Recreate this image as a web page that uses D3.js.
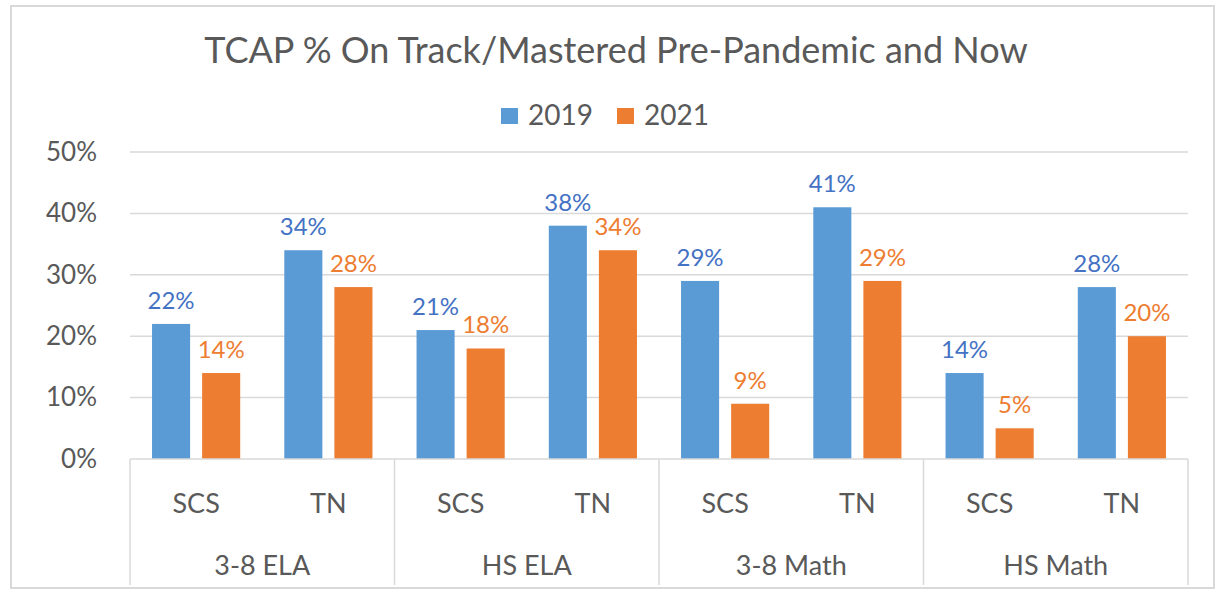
<!DOCTYPE html>
<html>
<head>
<meta charset="utf-8">
<script src="https://cdn.jsdelivr.net/npm/d3@7"></script>
<style>
  body { margin: 0; background: #fff; }
  text { font-family: Lato, "Open Sans", sans-serif; }
</style>
</head>
<body>
<script>
// data
var groups = ["3-8 ELA", "HS ELA", "3-8 Math", "HS Math"];
var subs = ["SCS", "TN"];
var series = ["2019", "2021"];
var v2019 = [22, 34, 21, 38, 29, 41, 14, 28];
var v2021 = [14, 28, 18, 34, 9, 29, 5, 20];
var yTicks = [0, 10, 20, 30, 40, 50];
var colors = ["#5b9bd5", "#ed7d31"];
var labelColors = ["#4472c4", "#ed7d31"];

var W = 1223, H = 595;
var svg = d3.select("body").append("svg").attr("width", W).attr("height", H);

svg.append("rect").attr("x", 11).attr("y", 6).attr("width", 1203).attr("height", 582)
  .attr("fill", "#fff").attr("stroke", "#d9d9d9").attr("stroke-width", 2);

var plotL = 130, plotR = 1188, plotT = 152, plotB = 459;

// one row per bar position
var cats = [];
groups.forEach(function(g, i){
  subs.forEach(function(s, j){ cats.push({group: g, sub: s, key: g + "|" + s, idx: i * 2 + j}); });
});

var x = d3.scaleBand().domain(cats.map(function(d){ return d.key; })).range([plotL, plotR]);
var xg = d3.scaleBand().domain(groups).range([plotL, plotR]);
var xs = d3.scaleBand().domain(series).range([0, x.bandwidth()]).paddingInner(0.24).paddingOuter(0.44);
var y = d3.scaleLinear().domain([0, 50]).range([plotB, plotT]);

// title
svg.append("text").attr("x", 616).attr("y", 63).attr("text-anchor", "middle")
  .attr("font-size", 36).attr("fill", "#595959")
  .text("TCAP % On Track/Mastered Pre-Pandemic and Now");

// legend
var lg = svg.append("g").attr("transform", "translate(501,116)");
series.forEach(function(s, i){
  var gx = i * 116;
  lg.append("rect").attr("x", gx).attr("y", -8).attr("width", 17).attr("height", 16).attr("fill", colors[i]);
  lg.append("text").attr("x", gx + 27).attr("y", 9).attr("font-size", 28).attr("fill", "#595959").text(s);
});

// grid
svg.append("g").selectAll("line").data(yTicks.slice(1)).join("line")
  .attr("x1", plotL).attr("x2", plotR)
  .attr("y1", function(d){ return y(d); }).attr("y2", function(d){ return y(d); })
  .attr("stroke", "#d9d9d9").attr("stroke-width", 1.5);

// y axis labels
var yAxis = d3.axisLeft(y).tickValues(yTicks).tickSize(0).tickPadding(0)
  .tickFormat(function(d){ return d + "%"; });
var ya = svg.append("g").attr("transform", "translate(97,0)").call(yAxis);
ya.select(".domain").remove();
ya.selectAll("text").attr("font-size", 26).attr("fill", "#595959")
  .style("font-family", "Lato, 'Open Sans', sans-serif");

// bars
var bars = [v2019, v2021];
bars.forEach(function(vals, si){
  svg.append("g").selectAll("rect").data(cats).join("rect")
    .attr("x", function(d){ return x(d.key) + xs(series[si]); })
    .attr("width", xs.bandwidth())
    .attr("y", function(d){ return y(vals[d.idx]); })
    .attr("height", function(d){ return y(0) - y(vals[d.idx]); })
    .attr("fill", colors[si]);
  svg.append("g").selectAll("text").data(cats).join("text")
    .attr("x", function(d){ return x(d.key) + xs(series[si]) + xs.bandwidth() / 2; })
    .attr("y", function(d){ return y(vals[d.idx]) - 15; })
    .attr("text-anchor", "middle").attr("font-size", 24).attr("fill", labelColors[si])
    .text(function(d){ return vals[d.idx] + "%"; });
});

// x axis line and separators
svg.append("line").attr("x1", plotL).attr("x2", plotR).attr("y1", plotB).attr("y2", plotB)
  .attr("stroke", "#d9d9d9").attr("stroke-width", 1.5);
var seps = groups.map(function(g){ return xg(g); }).concat([plotR]);
svg.append("g").selectAll("line").data(seps).join("line")
  .attr("x1", function(d){ return d; }).attr("x2", function(d){ return d; })
  .attr("y1", plotB).attr("y2", 585)
  .attr("stroke", "#d9d9d9").attr("stroke-width", 1.5);

// sub labels
svg.append("g").selectAll("text").data(cats).join("text")
  .attr("x", function(d){ return x(d.key) + x.bandwidth() / 2; })
  .attr("y", 513).attr("text-anchor", "middle").attr("font-size", 27).attr("fill", "#595959")
  .text(function(d){ return d.sub; });

// group labels
svg.append("g").selectAll("text").data(groups).join("text")
  .attr("x", function(d){ return xg(d) + xg.bandwidth() / 2; })
  .attr("y", 575).attr("text-anchor", "middle").attr("font-size", 27).attr("fill", "#595959")
  .text(function(d){ return d; });
</script>
</body>
</html>
